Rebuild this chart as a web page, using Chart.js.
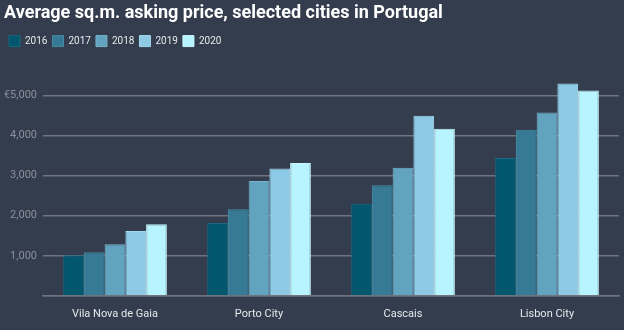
<!DOCTYPE html>
<html lang="en">
<head>
    <meta charset="UTF-8">
    <title>Average sq.m. asking price</title>
    <script src="https://cdn.jsdelivr.net/npm/chart.js"></script>
    <style>
        html, body { margin: 0; padding: 0; background: #333d4d; }
        .wrap { width: 624px; height: 330px; position: relative; }
    </style>
</head>
<body>
    <div class="wrap">
        <canvas id="priceChart" width="624" height="330"></canvas>
    </div>
    <script>
        // Data
        const cities = ['Vila Nova de Gaia', 'Porto City', 'Cascais', 'Lisbon City'];
        const years = ['2016', '2017', '2018', '2019', '2020'];
        const price2016 = [1010, 1820, 2300, 3440];
        const price2017 = [1090, 2160, 2760, 4150];
        const price2018 = [1290, 2870, 3200, 4580];
        const price2019 = [1620, 3180, 4500, 5300];
        const price2020 = [1790, 3320, 4170, 5130];
        const yTicks = [1000, 2000, 3000, 4000, 5000];

        const colors = ['#02566e', '#377a96', '#62a3bf', '#8ecae6', '#b8f4ff'];
        const borders = ['#1a6880', '#4a8aa5', '#78b4cd', '#a3d8ef', '#cbf8ff'];
        const series = [price2016, price2017, price2018, price2019, price2020];

        Chart.defaults.font.family = 'Roboto, "Noto Sans", sans-serif';

        // extra space under the legend
        const legendGap = {
            id: 'legendGap',
            beforeInit(chart) {
                const fit = chart.legend.fit;
                chart.legend.fit = function () {
                    fit.bind(chart.legend)();
                    this.height += 19;
                };
            }
        };

        new Chart(document.getElementById('priceChart'), {
            type: 'bar',
            data: {
                labels: cities,
                datasets: series.map((values, i) => ({
                    label: years[i],
                    data: values,
                    backgroundColor: colors[i],
                    borderColor: borders[i],
                    borderWidth: 1,
                    categoryPercentage: 0.72,
                    barPercentage: 1
                }))
            },
            options: {
                responsive: false,
                animation: false,
                layout: { padding: { left: 4, right: 5, top: 0, bottom: 5 } },
                plugins: {
                    title: {
                        display: true,
                        text: 'Average sq.m. asking price, selected cities in Portugal',
                        align: 'start',
                        color: '#ffffff',
                        font: { size: 18, weight: 'bold' },
                        padding: { top: 3, bottom: 6 }
                    },
                    legend: {
                        align: 'start',
                        labels: {
                            color: '#e6e8eb',
                            boxWidth: 11,
                            boxHeight: 11,
                            padding: 5,
                            font: { size: 10 }
                        }
                    },
                    tooltip: { enabled: false }
                },
                scales: {
                    x: {
                        grid: { display: false },
                        border: { color: '#70757d', width: 1.5 },
                        ticks: { color: '#e6e8eb', font: { size: 11 }, padding: 4 }
                    },
                    y: {
                        min: 0,
                        max: 5500,
                        afterBuildTicks: axis => {
                            axis.ticks = [0].concat(yTicks).map(v => ({ value: v }));
                        },
                        afterFit: axis => { axis.width = 39; },
                        grid: { color: '#70757d', lineWidth: 1.5, drawTicks: false },
                        border: { display: false },
                        ticks: {
                            color: '#8a9099',
                            font: { size: 11 },
                            padding: 6,
                            callback: v => v === 0 ? '' : (v === 5000 ? '€' : '') + v.toLocaleString('en-US')
                        }
                    }
                }
            },
            plugins: [legendGap]
        });
    </script>
</body>
</html>
